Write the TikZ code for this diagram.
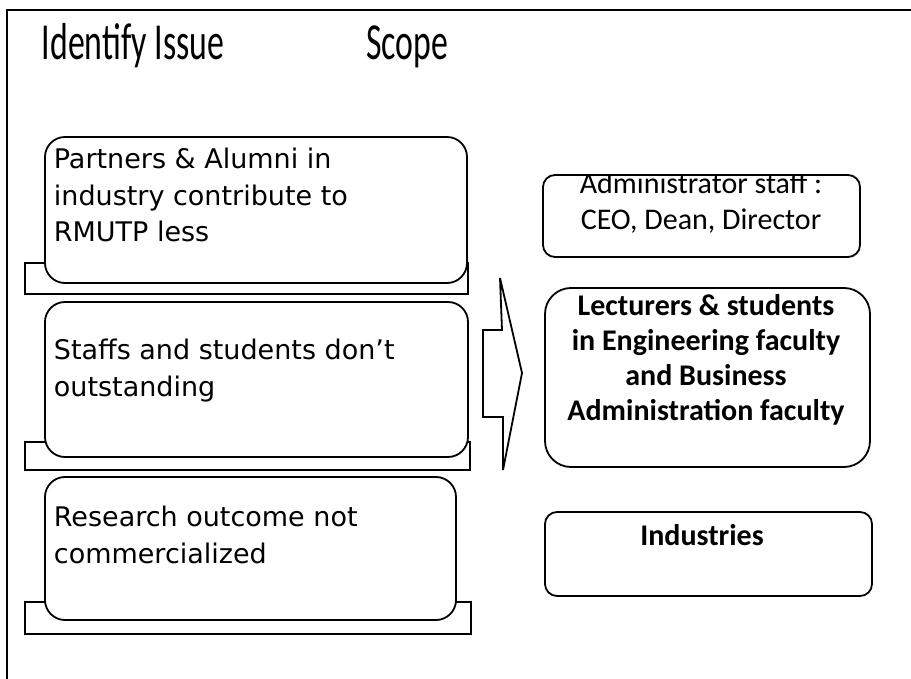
\documentclass[tikz,border=0pt]{standalone}
\usepackage{fontspec}
\setmainfont{Carlito}
\newfontfamily\titlefont[FakeStretch=0.65]{Carlito}
\newfontfamily\leftfont{DejaVu Sans}
\begin{document}
\begin{tikzpicture}[x=1pt,y=-1pt,line width=1.8pt,
  ibox/.style={draw,rounded corners=20pt,fill=white,anchor=north west,inner sep=0,outer sep=0},
  sbox/.style={draw,rounded corners=12pt,fill=white,anchor=north west,inner sep=0,outer sep=0},
  back/.style={draw,fill=white,anchor=north west,inner sep=0,outer sep=0},
  ltext/.style={anchor=base west,align=left,inner sep=0,font=\leftfont\fontsize{27}{36.5}\selectfont},
  rtext/.style={anchor=base,align=center,inner sep=0,font=\fontsize{30}{37}\selectfont},
  btext/.style={anchor=base,align=center,inner sep=0,font=\bfseries\fontsize{30}{35}\selectfont},
  ttext/.style={anchor=base,inner sep=0,font=\titlefont\fontsize{52}{60}\selectfont}]
\useasboundingbox (0,0) rectangle (911,679);
% frame
\coordinate (f1) at (7,679);
\coordinate (f2) at (7,10);
\coordinate (f3) at (911,10);
\draw[line width=2.2pt] (f1) -- (f2) -- (f3);
% titles
\node[ttext] (t1) at (133,60) {Identify Issue};
\node[ttext] (t2) at (407,60) {Scope};
% left stacked boxes
\node[back,minimum width=443,minimum height=31] (k1) at (25,263) {};
\node[ibox,minimum width=422,minimum height=146] (b1) at (45,137) {};
\node[ltext] (x1) at (53,242) {Partners \& Alumni in\\industry  contribute to\\RMUTP less};
\node[back,minimum width=445,minimum height=28] (k2) at (25,442) {};
\node[ibox,minimum width=423,minimum height=155] (b2) at (45,302) {};
\node[ltext] (x2) at (53,396) {Staffs and students don’t\\outstanding};
\node[back,minimum width=446,minimum height=32] (k3) at (25,602) {};
\node[ibox,minimum width=411,minimum height=143] (b3) at (45,477) {};
\node[ltext] (x3) at (53,563) {Research outcome not\\commercialized};
% arrow
\draw[fill=white,line join=miter] (500,278) -- (502,330) -- (483,330) -- (483,417) -- (503,417) -- (503,470) -- (522,373) -- cycle;
% right boxes
\node[sbox,minimum width=317,minimum height=82] (r1) at (543,175) {};
\begin{scope}
\clip (543,176) rectangle (860,257);
\node[rtext] (y1a) at (701,194) {Administrator staff :};
\end{scope}
\node[rtext] (y1b) at (701,230) {CEO, Dean, Director};
\node[draw,rounded corners=26pt,anchor=north west,inner sep=0,outer sep=0,minimum width=325,minimum height=179] (r2) at (545,288) {};
\node[btext] (y2) at (706,420) {Lecturers \& students\\in Engineering faculty\\and Business\\Administration faculty};
\node[sbox,minimum width=327,minimum height=84] (r3) at (545,512) {};
\node[btext] (y3) at (702,545) {Industries};
\end{tikzpicture}
\end{document}
